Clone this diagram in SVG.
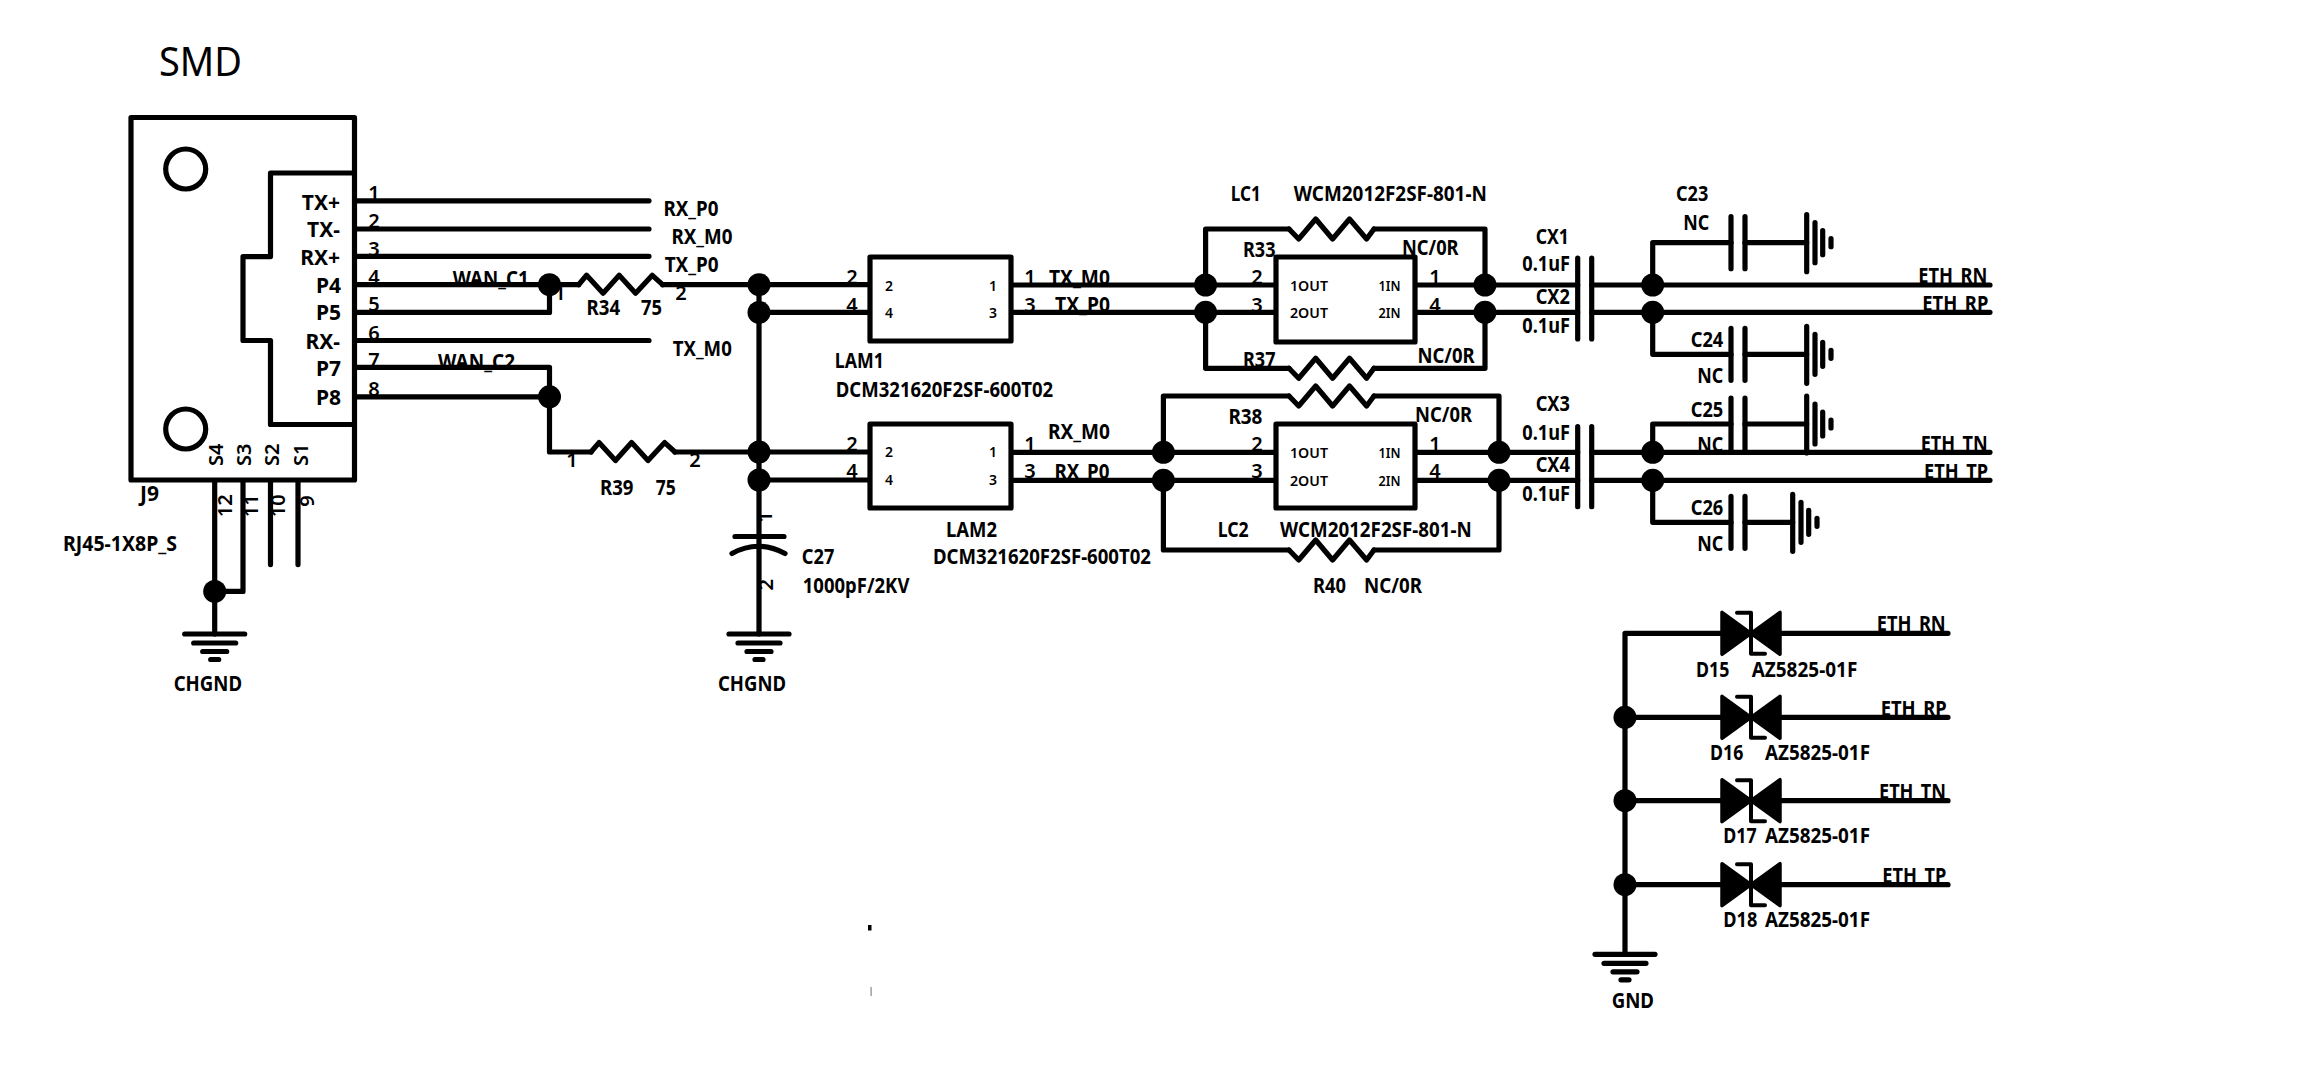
<svg xmlns="http://www.w3.org/2000/svg" width="2298" height="1086" viewBox="0 0 2298 1086">
<style>
.w{fill:none;stroke:#000;stroke-width:5.2;stroke-linecap:round;stroke-linejoin:round}
.f{fill:#fff;stroke:#000;stroke-width:5.2;stroke-linejoin:round}
.j{fill:#000}
text{font-family:"Noto Sans","Open Sans","Liberation Sans",sans-serif;font-weight:700;font-size:21px;fill:#000}
.s{font-size:14px;font-weight:600}
.n{font-size:20px;text-anchor:middle;font-weight:600}
.e{text-anchor:end}
.m{font-size:40px;font-weight:400}
</style>
<defs>
<polyline id="zu" class="w" points="0,0 8,-9.4 24.5,8.5 40.6,-9.4 57,8.5 73.7,-9.4 84,0"/>
<polyline id="zd" class="w" points="0,0 9.7,10 26.7,-10 43.6,10 60.5,-10 77.6,10 85,0"/>
<path id="gh" class="w" d="M-30,0H30M-21,9H21M-12,17.500H12M-4,25.500H4"/>
<path id="gv" class="w" d="M0,-28V29M8.300,-20V20M16,-12V12M24.300,-4V4"/>
<path id="cp" class="w" d="M0,-26V26M14,-26V26"/>
<g id="tvs">
<path d="M0,-21 L29,0 L58,-21 V21 L29,0 L0,21 Z" fill="#000" stroke="#000" stroke-width="3.500" stroke-linejoin="round"/>
<path class="w" d="M15,-20.500H29V20.500H43" style="stroke-width:4"/>
</g>
</defs>

<g id="connectors">
<path class="w" d="M355,200.800H649M355,229H649M355,256.300H649M355,340.500H649"/>
<path class="w" d="M355,284.700H578.600M662.600,284.700H870M355,312.400H549.500V284.700M759,312.400H870M759,284.700V634"/>
<path class="w" d="M355,367.300H549.500V452H591M675,452H870M355,396.800H549.500"/>
<path class="w" d="M759,480H870M1011,285H1276M1011,312.300H1276M1011,452.300H1276M1011,480.300H1276"/>
<path class="w" d="M1415,285H1577.700M1415,312.300H1577.700M1415,452.300H1577.700M1415,480.300H1577.700"/>
<path class="w" d="M1591.700,285H1990M1591.700,312.300H1990M1591.700,452.300H1990M1591.700,480.300H1990"/>
<path class="w" d="M1205.600,285V229H1289M1374,229H1485V285M1205.600,312.300V368.300H1289M1374,368.300H1485V312.300"/>
<path class="w" d="M1163.400,452.300V396H1289M1374,396H1499V452.300M1163.400,480.300V550H1289M1374,550H1499V480.300"/>
<path class="w" d="M214.700,480V634M243,480V591.400H214.700M270.500,480V564.600M298,480V564.600"/>
<path class="w" d="M1652.700,285V242.700H1731M1745,242.700H1806.700M1652.700,312.300V354.300H1731M1745,354.300H1806.700"/>
<path class="w" d="M1652.700,452.300V424H1731M1745,424H1806.700M1652.700,480.300V522.300H1731M1745,522.300H1792.700"/>
<path class="w" d="M1625,633.300H1722M1780,633.300H1948M1625,717.300H1722M1780,717.300H1948M1625,800.700H1722M1780,800.700H1948M1625,884.700H1722M1780,884.700H1948M1625,633.300V954.300"/>
<circle class="j" cx="549.500" cy="284.700" r="11.500"/><circle class="j" cx="549.500" cy="396.800" r="11.500"/>
<circle class="j" cx="759" cy="284.700" r="11.500"/><circle class="j" cx="759" cy="312.400" r="11.500"/>
<circle class="j" cx="759" cy="452" r="11.500"/><circle class="j" cx="759" cy="480" r="11.500"/>
<circle class="j" cx="214.700" cy="591.400" r="11.500"/>
<circle class="j" cx="1205.600" cy="285" r="11.500"/><circle class="j" cx="1205.600" cy="312.300" r="11.500"/>
<circle class="j" cx="1485" cy="285" r="11.500"/><circle class="j" cx="1485" cy="312.300" r="11.500"/>
<circle class="j" cx="1163.400" cy="452.300" r="11.500"/><circle class="j" cx="1163.400" cy="480.300" r="11.500"/>
<circle class="j" cx="1499" cy="452.300" r="11.500"/><circle class="j" cx="1499" cy="480.300" r="11.500"/>
<circle class="j" cx="1652.700" cy="285" r="11.500"/><circle class="j" cx="1652.700" cy="312.300" r="11.500"/>
<circle class="j" cx="1652.700" cy="452.300" r="11.500"/><circle class="j" cx="1652.700" cy="480.300" r="11.500"/>
<circle class="j" cx="1625" cy="717.300" r="11.500"/><circle class="j" cx="1625" cy="800.700" r="11.500"/><circle class="j" cx="1625" cy="884.700" r="11.500"/>
</g>

<text class="m" x="159" y="76" textLength="83" lengthAdjust="spacingAndGlyphs">SMD</text>

<g id="J9">
<rect class="f" x="131" y="117.500" width="223.500" height="362.500"/>
<path class="w" d="M354.500,173H270.500V256.600H243V340.500H270.500V424.500H354.500"/>
<circle class="w" cx="185.700" cy="169" r="20"/><circle class="w" cx="185.700" cy="429" r="20"/>
<text class="e" x="340" y="209.700">TX+</text><text class="e" x="340" y="237.400">TX-</text><text class="e" x="340" y="264.600">RX+</text>
<text class="e" x="341" y="293">P4</text><text class="e" x="341" y="320">P5</text><text class="e" x="340" y="349">RX-</text>
<text class="e" x="341" y="376">P7</text><text class="e" x="341" y="405">P8</text>
<text class="n" x="374" y="199.500">1</text><text class="n" x="374" y="228">2</text><text class="n" x="374" y="255.500">3</text><text class="n" x="374" y="284">4</text>
<text class="n" x="374" y="311">5</text><text class="n" x="374" y="339.500">6</text><text class="n" x="374" y="367">7</text><text class="n" x="374" y="396">8</text>
<text class="n" transform="rotate(-90 222.800 454.800)" x="222.800" y="454.800">S4</text>
<text class="n" transform="rotate(-90 251 454.800)" x="251" y="454.800">S3</text>
<text class="n" transform="rotate(-90 278.600 454.800)" x="278.600" y="454.800">S2</text>
<text class="n" transform="rotate(-90 307.600 454.800)" x="307.600" y="454.800">S1</text>
<text class="n" transform="rotate(-90 231.700 505.700)" x="231.700" y="505.700">12</text>
<text class="n" transform="rotate(-90 258.500 505.700)" x="258.500" y="505.700">11</text>
<text class="n" transform="rotate(-90 285 505.700)" x="285" y="505.700">10</text>
<text class="n" transform="rotate(-90 314 501)" x="314" y="501">9</text>
<text x="140" y="500.800" textLength="19" lengthAdjust="spacingAndGlyphs">J9</text>
<text x="63" y="551" textLength="114" lengthAdjust="spacingAndGlyphs">RJ45-1X8P_S</text>
</g>

<g id="nets">
<text x="663.400" y="216.400" textLength="55" lengthAdjust="spacingAndGlyphs">RX_P0</text>
<text x="671.400" y="243.500" textLength="61" lengthAdjust="spacingAndGlyphs">RX_M0</text>
<text x="664.700" y="272" textLength="54" lengthAdjust="spacingAndGlyphs">TX_P0</text>
<text x="672.800" y="355.700" textLength="59" lengthAdjust="spacingAndGlyphs">TX_M0</text>
<text x="452.700" y="285.600" textLength="76" lengthAdjust="spacingAndGlyphs">WAN_C1</text>
<text x="438" y="369" textLength="77" lengthAdjust="spacingAndGlyphs">WAN_C2</text>
<text x="1049" y="285" textLength="61" lengthAdjust="spacingAndGlyphs">TX_M0</text>
<text x="1055" y="311.700" textLength="55" lengthAdjust="spacingAndGlyphs">TX_P0</text>
<text x="1048" y="439.300" textLength="62" lengthAdjust="spacingAndGlyphs">RX_M0</text>
<text x="1054.400" y="479.300" textLength="55" lengthAdjust="spacingAndGlyphs">RX_P0</text>
<text x="1918.300" y="282.700" textLength="69" lengthAdjust="spacingAndGlyphs">ETH_RN</text>
<text x="1922.300" y="310.500" textLength="66" lengthAdjust="spacingAndGlyphs">ETH_RP</text>
<text x="1920.700" y="450.500" textLength="67" lengthAdjust="spacingAndGlyphs">ETH_TN</text>
<text x="1924" y="478.800" textLength="64" lengthAdjust="spacingAndGlyphs">ETH_TP</text>
<text x="1876.700" y="631.200" textLength="69" lengthAdjust="spacingAndGlyphs">ETH_RN</text>
<text x="1880.700" y="715.500" textLength="66" lengthAdjust="spacingAndGlyphs">ETH_RP</text>
<text x="1879" y="798.800" textLength="67" lengthAdjust="spacingAndGlyphs">ETH_TN</text>
<text x="1882.300" y="883.200" textLength="64" lengthAdjust="spacingAndGlyphs">ETH_TP</text>
</g>

<g id="R34"><use href="#zu" x="578.600" y="284.700"/>
<text class="n" x="560" y="300">1</text><text class="n" x="681" y="300">2</text>
<text x="586.600" y="314.600" textLength="33.500" lengthAdjust="spacingAndGlyphs">R34</text><text x="641" y="314.600" textLength="21" lengthAdjust="spacingAndGlyphs">75</text></g>
<g id="R39"><use href="#zu" x="591" y="452"/>
<text class="n" x="572" y="467">1</text><text class="n" x="695" y="467">2</text>
<text x="600" y="495.400" textLength="33.500" lengthAdjust="spacingAndGlyphs">R39</text><text x="655.800" y="495.400" textLength="20" lengthAdjust="spacingAndGlyphs">75</text></g>

<g id="LAM1"><rect class="f" x="870" y="257" width="141" height="84"/>
<text class="s" x="889" y="290.700" text-anchor="middle">2</text><text class="s" x="889" y="317.700" text-anchor="middle">4</text>
<text class="s" x="993" y="290.700" text-anchor="middle">1</text><text class="s" x="993" y="317.700" text-anchor="middle">3</text>
<text class="n" x="852" y="284">2</text><text class="n" x="852" y="311.700">4</text><text class="n" x="1030" y="284">1</text><text class="n" x="1030" y="311.700">3</text>
<text x="834.800" y="368.300" textLength="49" lengthAdjust="spacingAndGlyphs">LAM1</text>
<text x="835.700" y="396.700" textLength="217.500" lengthAdjust="spacingAndGlyphs">DCM321620F2SF-600T02</text></g>

<g id="LAM2"><rect class="f" x="870" y="424" width="141" height="84"/>
<text class="s" x="889" y="457.300" text-anchor="middle">2</text><text class="s" x="889" y="485" text-anchor="middle">4</text>
<text class="s" x="993" y="457.300" text-anchor="middle">1</text><text class="s" x="993" y="485" text-anchor="middle">3</text>
<text class="n" x="852" y="450.700">2</text><text class="n" x="852" y="478.300">4</text><text class="n" x="1030" y="450.700">1</text><text class="n" x="1030" y="478.300">3</text>
<text x="946" y="536.500" textLength="51" lengthAdjust="spacingAndGlyphs">LAM2</text>
<text x="933" y="563.800" textLength="218" lengthAdjust="spacingAndGlyphs">DCM321620F2SF-600T02</text></g>

<g id="LC1"><rect class="f" x="1276" y="257" width="139" height="85"/>
<text class="s" x="1290" y="291" textLength="38" lengthAdjust="spacingAndGlyphs">1OUT</text><text class="s" x="1290" y="318.300" textLength="38" lengthAdjust="spacingAndGlyphs">2OUT</text>
<text class="s" x="1378.600" y="291" textLength="22" lengthAdjust="spacingAndGlyphs">1IN</text><text class="s" x="1378.600" y="318.300" textLength="22" lengthAdjust="spacingAndGlyphs">2IN</text>
<text class="n" x="1257" y="284">2</text><text class="n" x="1257" y="311.700">3</text><text class="n" x="1435" y="284">1</text><text class="n" x="1435" y="311.700">4</text>
<text x="1230.800" y="200.700" textLength="30" lengthAdjust="spacingAndGlyphs">LC1</text>
<text x="1293.800" y="200.700" textLength="193" lengthAdjust="spacingAndGlyphs">WCM2012F2SF-801-N</text></g>

<g id="LC2"><rect class="f" x="1276" y="424" width="139" height="84"/>
<text class="s" x="1290" y="458.300" textLength="38" lengthAdjust="spacingAndGlyphs">1OUT</text><text class="s" x="1290" y="485.700" textLength="38" lengthAdjust="spacingAndGlyphs">2OUT</text>
<text class="s" x="1378.600" y="458.300" textLength="22" lengthAdjust="spacingAndGlyphs">1IN</text><text class="s" x="1378.600" y="485.700" textLength="22" lengthAdjust="spacingAndGlyphs">2IN</text>
<text class="n" x="1257" y="450.700">2</text><text class="n" x="1257" y="478.300">3</text><text class="n" x="1435" y="450.700">1</text><text class="n" x="1435" y="478.300">4</text>
<text x="1217.700" y="536.500" textLength="31" lengthAdjust="spacingAndGlyphs">LC2</text>
<text x="1280" y="536.500" textLength="191.700" lengthAdjust="spacingAndGlyphs">WCM2012F2SF-801-N</text></g>

<g id="R33"><use href="#zd" x="1289" y="229"/>
<text x="1243" y="256.700" textLength="32.500" lengthAdjust="spacingAndGlyphs">R33</text><text x="1402" y="255" textLength="56.600" lengthAdjust="spacingAndGlyphs">NC/0R</text></g>
<g id="R37"><use href="#zd" x="1289" y="368.300"/>
<text x="1243" y="367" textLength="32.500" lengthAdjust="spacingAndGlyphs">R37</text><text x="1417.400" y="362.700" textLength="57.200" lengthAdjust="spacingAndGlyphs">NC/0R</text></g>
<g id="R38"><use href="#zd" x="1289" y="396"/>
<text x="1228.400" y="424.300" textLength="34" lengthAdjust="spacingAndGlyphs">R38</text><text x="1415" y="421.700" textLength="57" lengthAdjust="spacingAndGlyphs">NC/0R</text></g>
<g id="R40"><use href="#zd" x="1289" y="550"/>
<text x="1313" y="592.700" textLength="33" lengthAdjust="spacingAndGlyphs">R40</text><text x="1364" y="592.700" textLength="58" lengthAdjust="spacingAndGlyphs">NC/0R</text></g>

<g id="C27">
<path class="w" d="M735,536.500H784M732,553.500Q758,539 785,553.500"/>
<text class="n" transform="rotate(-90 772 517)" x="772" y="517">1</text>
<text class="n" transform="rotate(-90 773 584.700)" x="773" y="584.700">2</text>
<text x="801.800" y="564.300" textLength="32.500" lengthAdjust="spacingAndGlyphs">C27</text>
<text x="802.800" y="592.700" textLength="106.600" lengthAdjust="spacingAndGlyphs">1000pF/2KV</text>
</g>

<g id="CHGND1"><use href="#gh" x="214.700" y="634"/><text x="173.700" y="690.500" textLength="68.300" lengthAdjust="spacingAndGlyphs">CHGND</text></g>
<g id="CHGND2"><use href="#gh" x="759" y="634"/><text x="718" y="691" textLength="68" lengthAdjust="spacingAndGlyphs">CHGND</text></g>
<g id="GND"><use href="#gh" x="1625" y="954.300"/><text x="1611.700" y="1008.300" textLength="42.300" lengthAdjust="spacingAndGlyphs">GND</text></g>

<g id="CX1"><path class="w" d="M1577.700,258V339M1591.700,258V339"/>
<text x="1535.700" y="244" textLength="33.300" lengthAdjust="spacingAndGlyphs">CX1</text><text x="1522.300" y="270.700" textLength="47.700" lengthAdjust="spacingAndGlyphs">0.1uF</text></g>
<g id="CX2"><text x="1535.700" y="304.300" textLength="34.300" lengthAdjust="spacingAndGlyphs">CX2</text><text x="1522.300" y="332.700" textLength="47.700" lengthAdjust="spacingAndGlyphs">0.1uF</text></g>
<g id="CX3"><path class="w" d="M1577.700,426.700V506.700M1591.700,426.700V506.700"/>
<text x="1535.700" y="411" textLength="34.300" lengthAdjust="spacingAndGlyphs">CX3</text><text x="1522.300" y="439.800" textLength="47.700" lengthAdjust="spacingAndGlyphs">0.1uF</text></g>
<g id="CX4"><text x="1535.700" y="471.700" textLength="34.300" lengthAdjust="spacingAndGlyphs">CX4</text><text x="1522.300" y="500.700" textLength="47.700" lengthAdjust="spacingAndGlyphs">0.1uF</text></g>

<g id="C23"><use href="#cp" x="1731" y="242.700"/><use href="#gv" x="1806.700" y="242.700"/>
<text x="1676" y="200.700" textLength="32.300" lengthAdjust="spacingAndGlyphs">C23</text><text x="1683.300" y="230" textLength="26" lengthAdjust="spacingAndGlyphs">NC</text></g>
<g id="C24"><use href="#cp" x="1731" y="354.300"/><use href="#gv" x="1806.700" y="354.300"/>
<text x="1690.700" y="346.700" textLength="32.600" lengthAdjust="spacingAndGlyphs">C24</text><text x="1697.300" y="383.300" textLength="26" lengthAdjust="spacingAndGlyphs">NC</text></g>
<g id="C25"><use href="#cp" x="1731" y="424"/><use href="#gv" x="1806.700" y="424"/>
<text x="1690.700" y="416.700" textLength="32.600" lengthAdjust="spacingAndGlyphs">C25</text><text x="1697.300" y="451.700" textLength="26" lengthAdjust="spacingAndGlyphs">NC</text></g>
<g id="C26"><use href="#cp" x="1731" y="522.300"/><use href="#gv" x="1792.700" y="522.300"/>
<text x="1690.700" y="515" textLength="32.600" lengthAdjust="spacingAndGlyphs">C26</text><text x="1697.300" y="551" textLength="26" lengthAdjust="spacingAndGlyphs">NC</text></g>

<g id="D15"><use href="#tvs" x="1722" y="633.300"/><text x="1696" y="676.700" textLength="33.300" lengthAdjust="spacingAndGlyphs">D15</text><text x="1751.700" y="676.700" textLength="105.600" lengthAdjust="spacingAndGlyphs">AZ5825-01F</text></g>
<g id="D16"><use href="#tvs" x="1722" y="717.300"/><text x="1710" y="760" textLength="33.300" lengthAdjust="spacingAndGlyphs">D16</text><text x="1765" y="760" textLength="105" lengthAdjust="spacingAndGlyphs">AZ5825-01F</text></g>
<g id="D17"><use href="#tvs" x="1722" y="800.700"/><text x="1723.300" y="843.300" textLength="33.400" lengthAdjust="spacingAndGlyphs">D17</text><text x="1765" y="843.300" textLength="105" lengthAdjust="spacingAndGlyphs">AZ5825-01F</text></g>
<g id="D18"><use href="#tvs" x="1722" y="884.700"/><text x="1723.300" y="927.300" textLength="34" lengthAdjust="spacingAndGlyphs">D18</text><text x="1765" y="927.300" textLength="105" lengthAdjust="spacingAndGlyphs">AZ5825-01F</text></g>

<rect x="868" y="925" width="3.500" height="5.500" fill="#000"/>
<rect x="870.500" y="987" width="1.200" height="9" fill="#888"/>
</svg>
